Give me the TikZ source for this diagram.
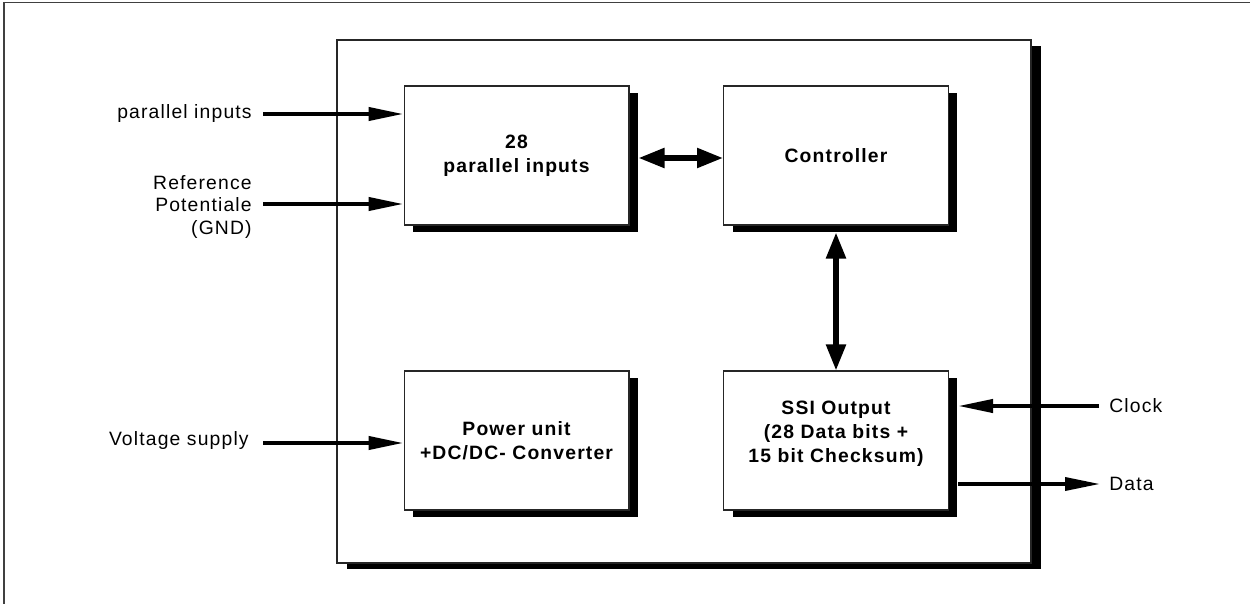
\documentclass[tikz,border=0pt]{standalone}
\usepackage{fontspec}
\setmainfont[LetterSpace=6]{Liberation Sans}
\usetikzlibrary{arrows.meta,shadows}

\tikzset{
  blok/.style={draw=black!85, line width=0.6pt, fill=white,
    minimum width=4.5cm, minimum height=2.78cm, align=center,
    font=\bfseries\fontsize{11}{13.6}\selectfont,
    general shadow={fill=black, shadow xshift=0.18cm, shadow yshift=-0.14cm}},
  rahmen/.style={draw=black!85, line width=1.1pt, fill=white,
    minimum width=13.88cm, minimum height=10.46cm,
    general shadow={fill=black, shadow xshift=0.2cm, shadow yshift=-0.12cm}},
  pfeil/.style={line width=2.3pt, -{Triangle[length=0.7cm,width=0.26cm]}},
  dpfeil/.style={line width=3pt,
    {Triangle[length=0.52cm,width=0.38cm]}-{Triangle[length=0.52cm,width=0.38cm]}},
  beschr/.style={inner sep=0pt, font=\fontsize{11}{13}\selectfont, align=right}
}

\begin{document}
\begin{tikzpicture}[x=0.02cm,y=-0.02cm]
\useasboundingbox (0,0) rectangle (1250,604);
%Рамка рисунка
\draw[black!75, line width=0.9pt] (4,604)--(4,2.5)--(1250,2.5);
%Корпус
\node[rahmen] (gehaeuse) at (684,301.5) {};
%Блоки
\node[blok] (eing) at (516.5,155.5) {28\\parallel inputs};
\node[blok] (ctrl) at (836,155.5) {Controller};
\node[blok] (netz) at (516.5,440.5) {Power unit\\+DC/DC- Converter};
\node[blok] (ssi) at (836,440.5) {SSI Output\\(28 Data bits +\\15 bit Checksum)\\[-4pt]\mbox{}};
%Подписи входов и выходов
\node[beschr, anchor=east] (pin) at (252,114) {parallel inputs};
\node[beschr, anchor=east] (ref) at (252,207) {Reference\\Potentiale\\(GND)};
\node[beschr, anchor=east] (ub) at (249,441) {Voltage supply};
\node[beschr, anchor=west] (clk) at (1109,406) {Clock};
\node[beschr, anchor=west] (dat) at (1109,484) {Data};
%Входы
\draw[pfeil] ([xshift=0.22cm]pin.east)--(pin.east -| eing.west);
\draw[pfeil] ([xshift=0.22cm,yshift=0.06cm]ref.east)--([yshift=0.06cm]ref.east -| eing.west);
\draw[pfeil] ([xshift=0.28cm,yshift=-0.04cm]ub.east)--([yshift=-0.04cm]ub.east -| netz.west);
%Связи между блоками
\draw[dpfeil] ([xshift=0.18cm,yshift=-0.05cm]eing.east)--([yshift=-0.05cm]ctrl.west);
\draw[dpfeil] ([yshift=-0.14cm]ctrl.south)--(ssi.north);
%Выходы
\draw[pfeil] ([xshift=-0.2cm]clk.west)--([xshift=0.18cm]clk.west -| ssi.east);
\draw[pfeil, line width=2pt] ([xshift=0.18cm]dat.west -| ssi.east)--([xshift=-0.18cm]dat.west);
\end{tikzpicture}
\end{document}
